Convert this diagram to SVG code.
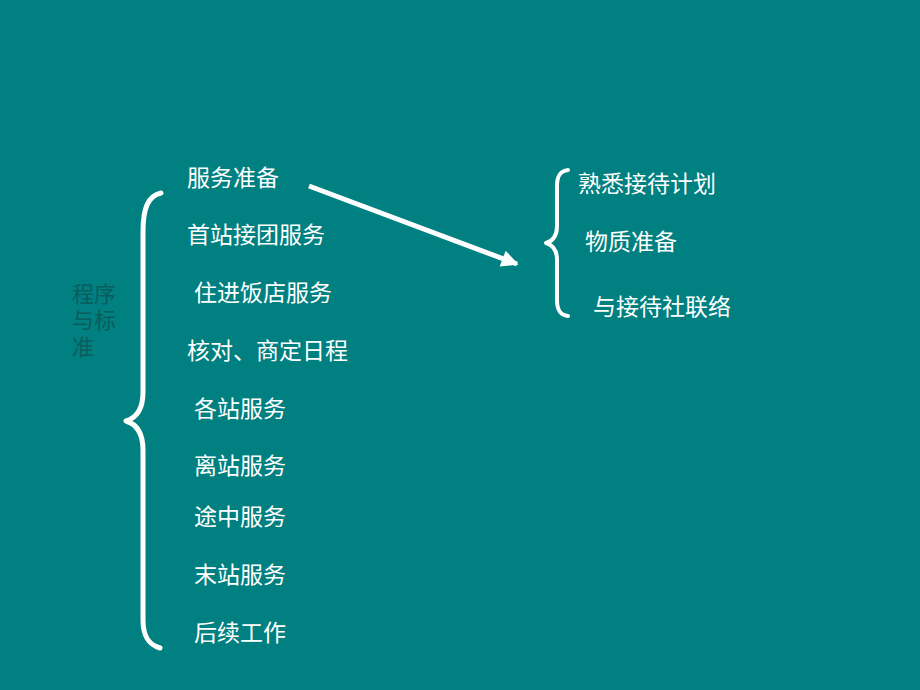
<svg xmlns="http://www.w3.org/2000/svg" width="920" height="690" viewBox="0 0 920 690">
<style>
.t{font-family:"Liberation Sans","Noto Sans CJK SC",sans-serif;font-size:23px;fill:#ffffff}
.lbl{font-family:"Liberation Sans","Noto Sans CJK SC",sans-serif;font-size:22px;fill:#0b5c5c}
.br{fill:none;stroke:#ffffff;stroke-linecap:round;stroke-linejoin:round}
</style>
<defs>
<marker id="ah" viewBox="0 0 10 10" refX="9" refY="5" markerWidth="5" markerHeight="3.4" orient="auto" markerUnits="strokeWidth">
<path d="M0,0 L10,5 L0,10 Z" fill="#ffffff"/>
</marker>
</defs>
<rect width="920" height="690" fill="#008080"/>
<g id="label"><text class="lbl" x="72" y="302">程序</text><text class="lbl" x="72" y="328">与标</text><text class="lbl" x="72" y="355">准</text></g>
<g id="connectors">
<path class="br" stroke-width="5" d="M161,193 C148,196 143,208 143,232 L143,392 C143,410 136,418 126,421 C136,424 143,432 143,450 L143,620 C143,638 150,645 160,648"/>
<path class="br" stroke-width="4" d="M568,170 C560,171 557,176 557,186 L557,226 C557,236 553,241 546,243 C553,245 557,250 557,260 L557,300 C557,310 560,315 568,316"/>
<line x1="309" y1="186" x2="517" y2="264" stroke="#ffffff" stroke-width="5" marker-end="url(#ah)"/>
</g>
<g id="n1"><text class="t" x="187" y="186">服务准备</text></g>
<g id="n2"><text class="t" x="187" y="243">首站接团服务</text></g>
<g id="n3"><text class="t" x="194" y="301">住进饭店服务</text></g>
<g id="n4"><text class="t" x="187" y="359">核对、商定日程</text></g>
<g id="n5"><text class="t" x="194" y="417">各站服务</text></g>
<g id="n6"><text class="t" x="194" y="474">离站服务</text></g>
<g id="n7"><text class="t" x="194" y="525">途中服务</text></g>
<g id="n8"><text class="t" x="194" y="583">末站服务</text></g>
<g id="n9"><text class="t" x="194" y="641">后续工作</text></g>
<g id="r1"><text class="t" x="578" y="192">熟悉接待计划</text></g>
<g id="r2"><text class="t" x="585" y="250">物质准备</text></g>
<g id="r3"><text class="t" x="593" y="315">与接待社联络</text></g>
</svg>
